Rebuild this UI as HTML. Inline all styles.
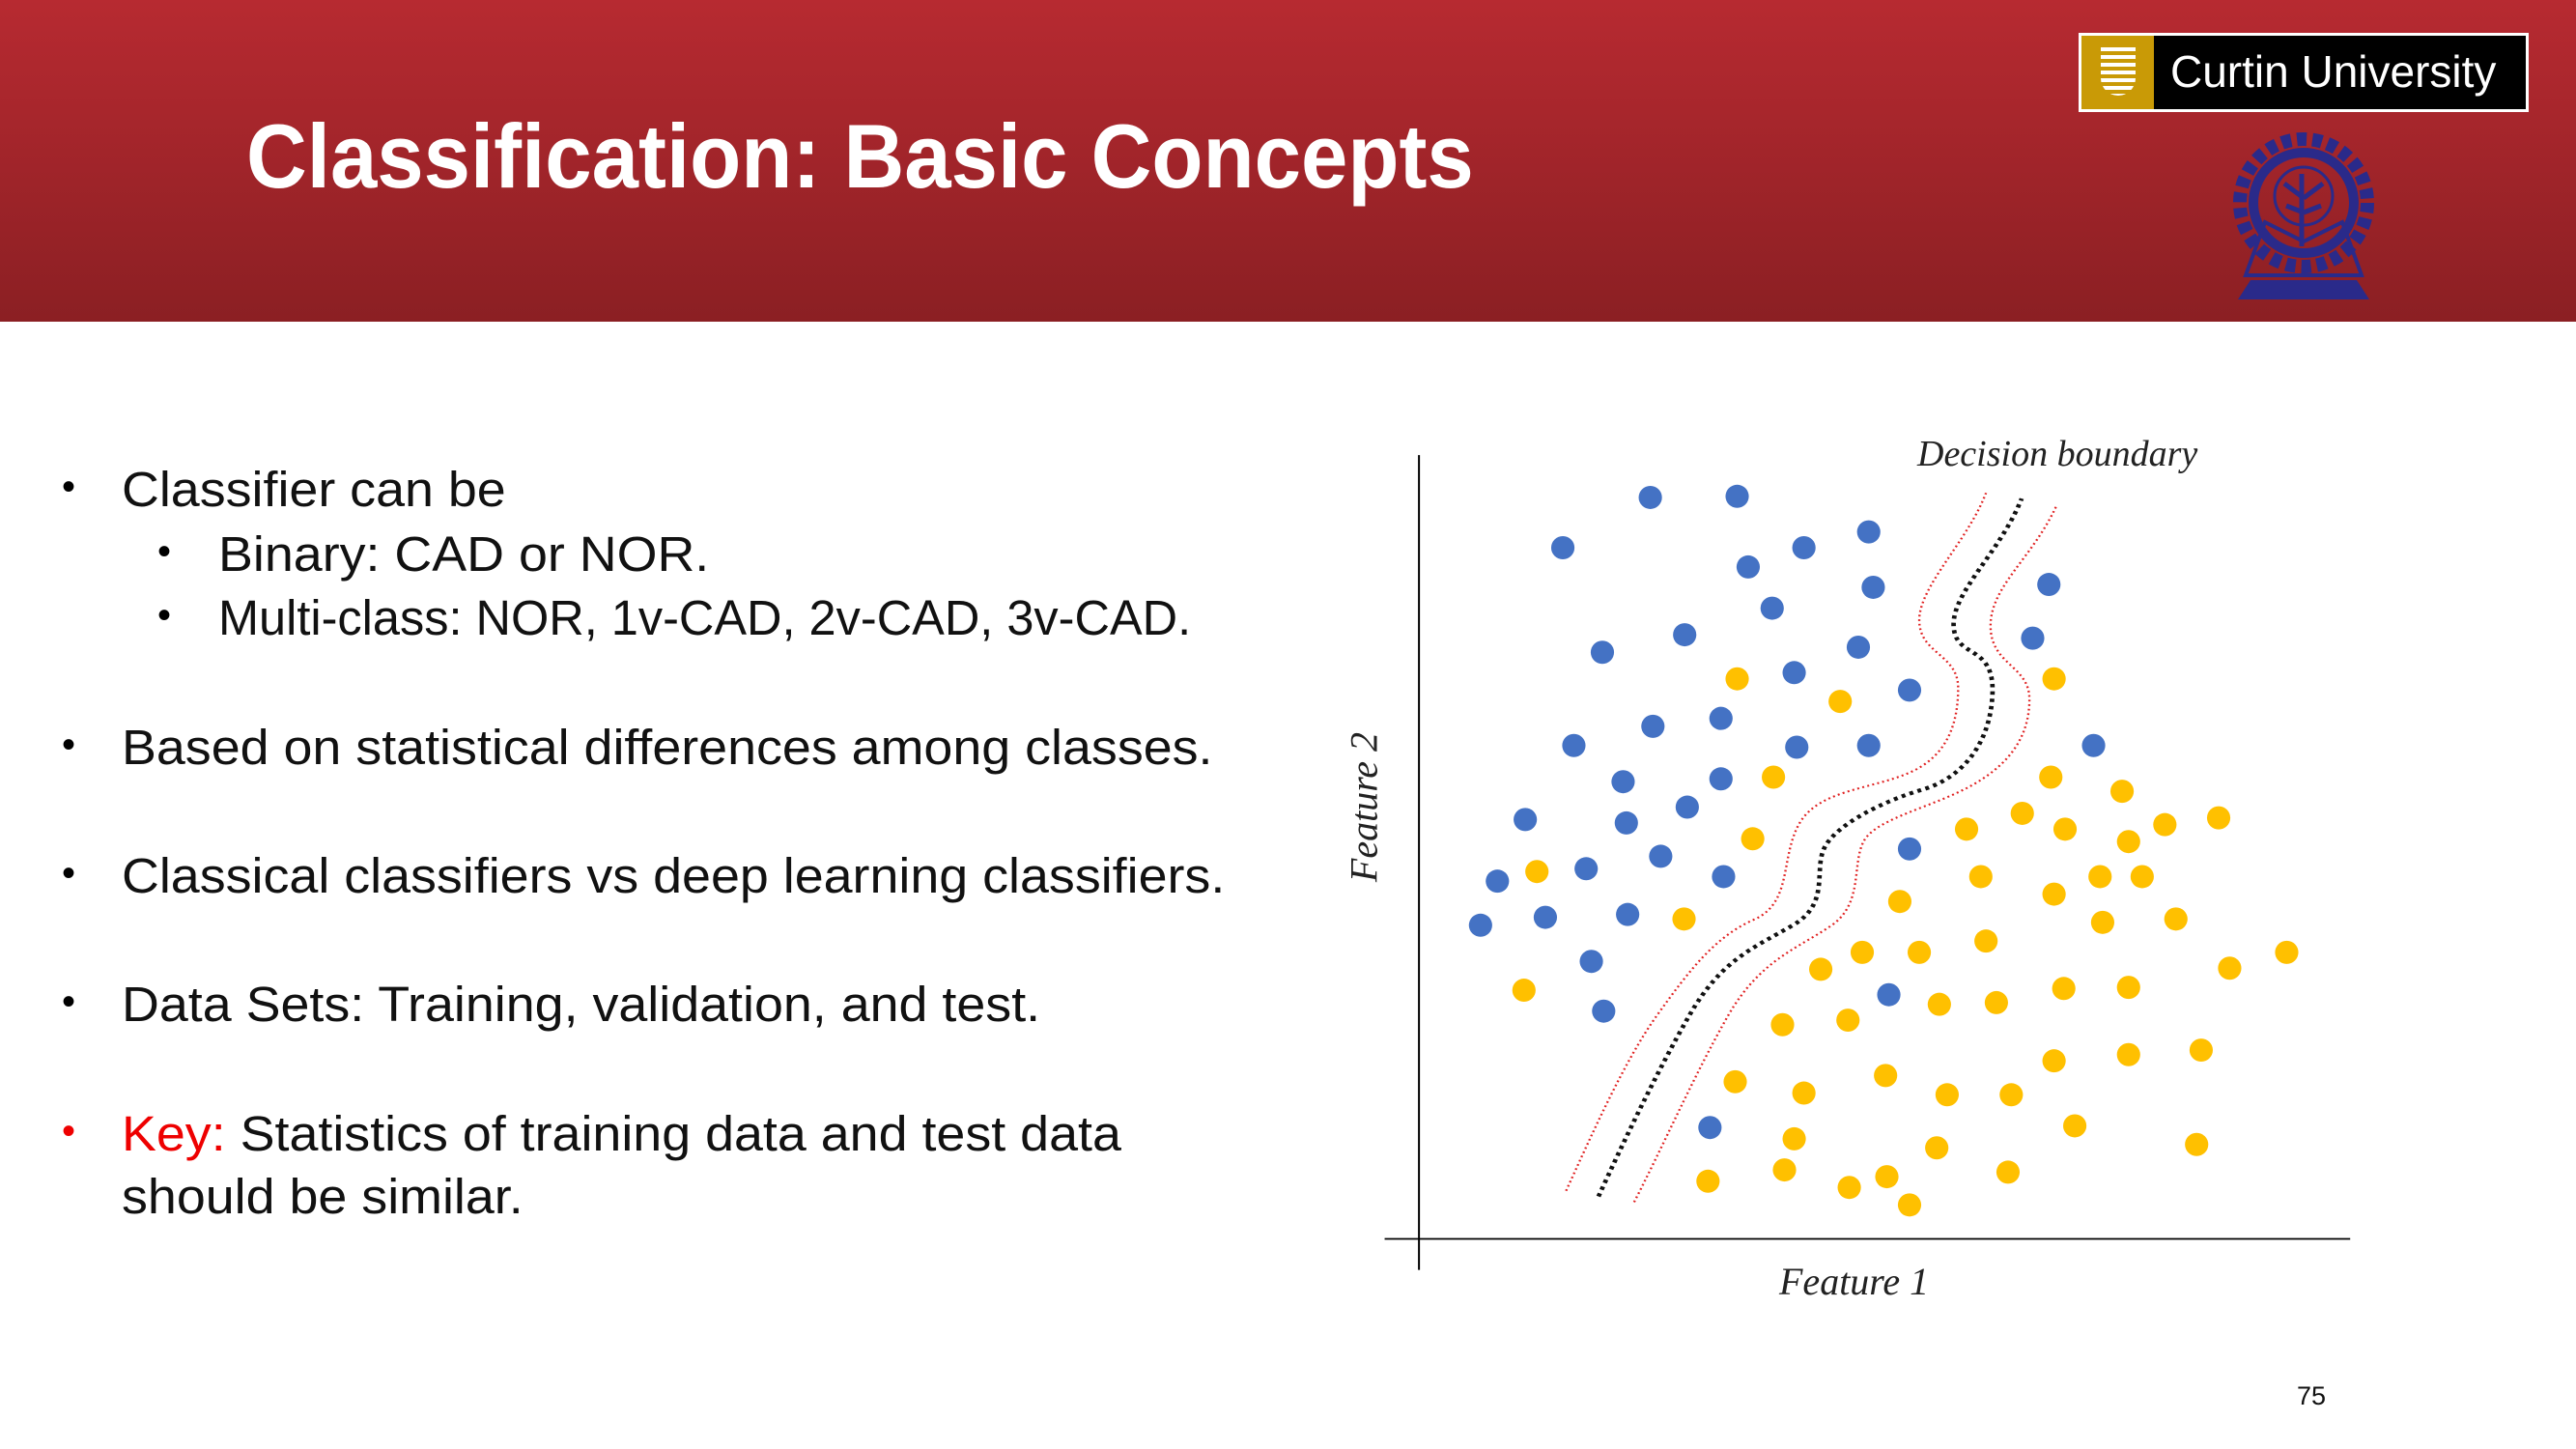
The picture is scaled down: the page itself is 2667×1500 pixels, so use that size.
<!DOCTYPE html>
<html><head><meta charset="utf-8"><style>
body{margin:0;width:2667px;height:1500px;position:relative;background:#fff;overflow:hidden;font-family:"Liberation Sans",sans-serif}
.hdr{position:absolute;left:0;top:0;width:2667px;height:333px;background:linear-gradient(#b72a31,#8b1f23)}
.title{position:absolute;left:255px;top:108px;font-size:94px;font-weight:bold;color:#fff;white-space:nowrap;transform:scaleX(0.925);transform-origin:left top}
.line{position:absolute;font-size:51px;color:#111;white-space:nowrap;line-height:1;transform:scaleX(1.055);transform-origin:left top}
.dot{position:absolute;font-size:40px}
.lbl{position:absolute;font-family:"Liberation Serif",serif;font-style:italic;white-space:nowrap;color:#222}
</style></head><body>
<div class="hdr"></div>
<div class="title">Classification: Basic Concepts</div>
<div style="position:absolute;left:2152px;top:34px;width:460px;height:76px;border:3px solid #fff;background:#000">
 <div style="position:absolute;left:0;top:0;width:75px;height:76px;background:#c99a06"></div>
 <div style="position:absolute;left:20px;top:12px;width:36px;height:50px;background:repeating-linear-gradient(#fff 0 4px,#c99a06 4px 8px);border-radius:0 0 18px 18px"></div>
 <div style="position:absolute;left:92px;top:10px;color:#fff;font-size:46px;white-space:nowrap">Curtin University</div>
</div>
<svg style="position:absolute;left:2305px;top:135px" width="160" height="180" viewBox="0 0 160 180">
 <circle cx="80" cy="75" r="66" fill="none" stroke="#2a2a8a" stroke-width="14" stroke-dasharray="10 6"/>
 <circle cx="80" cy="75" r="52" fill="none" stroke="#2a2a8a" stroke-width="10"/>
 <circle cx="80" cy="68" r="30" fill="none" stroke="#2a2a8a" stroke-width="3"/>
 <path d="M78 45 V120 M80 70 L60 55 M80 70 L100 55 M80 85 L62 78 M80 85 L98 78" stroke="#2a2a8a" stroke-width="5"/>
 <path d="M20 150 L40 95 L80 115 L120 95 L140 150 Z" fill="none" stroke="#2a2a8a" stroke-width="4"/>
 <path d="M12 175 L25 155 H135 L148 175 Z" fill="#2a2a8a"/>
</svg>

<div class="dot" style="left:64px;top:482px">•</div>
<div class="line" style="left:126px;top:481px">Classifier can be</div>
<div class="dot" style="left:163px;top:549px">•</div>
<div class="line" style="left:226px;top:548px">Binary: CAD or NOR.</div>
<div class="dot" style="left:163px;top:615px">•</div>
<div class="line" style="left:226px;top:614px;transform:scaleX(0.99)">Multi-class: NOR, 1v-CAD, 2v-CAD, 3v-CAD.</div>
<div class="dot" style="left:64px;top:749px">•</div>
<div class="line" style="left:126px;top:748px">Based on statistical differences among classes.</div>
<div class="dot" style="left:64px;top:882px">•</div>
<div class="line" style="left:126px;top:881px">Classical classifiers vs deep learning classifiers.</div>
<div class="dot" style="left:64px;top:1015px">•</div>
<div class="line" style="left:126px;top:1014px">Data Sets: Training, validation, and test.</div>
<div class="dot" style="left:64px;top:1149px;color:#e00">•</div>
<div class="line" style="left:126px;top:1148px"><span style="color:#e00">Key:</span> Statistics of training data and test data</div>
<div class="line" style="left:126px;top:1213px">should be similar.</div>
<div style="position:absolute;left:2378px;top:1430px;font-size:27px;color:#111">75</div>

<div class="lbl" style="left:1985px;top:448px;font-size:38px">Decision boundary</div>
<div class="lbl" style="left:1842px;top:1303px;font-size:40px">Feature 1</div>
<div class="lbl" style="left:1332px;top:812px;width:160px;text-align:center;font-size:40px;transform:rotate(-90deg)">Feature 2</div>

<svg id="chart" style="position:absolute;left:1400px;top:443px" width="1050" height="919" viewBox="0 0 1565 1571" preserveAspectRatio="none">
 <line x1="103" y1="48" x2="103" y2="1490" stroke="#000" stroke-width="3"/>
 <line x1="50" y1="1435" x2="1540" y2="1435" stroke="#000" stroke-width="3"/>
 <path fill="none" stroke="#e02020" stroke-width="3.5" stroke-dasharray="3 5" d="M330 1350 C370 1250 420 1120 470 1040 S560 900 620 870 S660 760 690 700 S800 640 860 610 S935 520 935 460 S875 400 875 340 S950 200 978 115"/>
 <path fill="none" stroke="#111" stroke-width="7" stroke-dasharray="6 7" d="M380 1360 C420 1260 470 1140 520 1040 S620 920 680 880 S710 780 730 740 S820 660 880 640 S985 560 988 470 S930 410 928 350 S1000 220 1033 125"/>
 <path fill="none" stroke="#e02020" stroke-width="3.5" stroke-dasharray="3 5" d="M435 1370 C480 1270 530 1140 580 1040 S690 920 740 880 S770 770 790 730 S900 670 960 630 S1045 540 1045 480 S985 420 985 350 S1050 230 1087 137"/>
 <g id="pts"></g>
</svg>
<script>
const blueX=[35.7,49.1,22.2,59.4,69.4,50.8,70.1,97.2,54.5,41,28.3,67.8,94.7,57.9,75.7,36.1,46.6,23.9,58.3,69.4,104.1,31.5,46.6,41.4,16.4,32,75.7,37.3,12.1,25.8,47,9.5,19.5,32.2,26.6,72.5,28.5,44.9];
const blueY=[131.2,131.4,122.3,122.3,125.1,118.9,115.3,115.8,111.6,106.9,103.8,104.7,106.3,100.2,97.1,90.7,92.1,87.3,87,87.3,87.3,80.9,81.4,76.4,74.2,73.6,69,67.7,63.3,65.5,64.1,55.5,56.9,57.4,49.1,43.2,40.3,19.7];
const yellowX=[49.1,65,98,54.7,97.5,108.5,51.5,84.5,93.1,99.7,109.5,115.1,123.4,18.2,86.7,98,105.1,111.6,74.2,40.9,105.5,116.8,68.4,77.2,87.5,62,133.9,125.1,16.2,80.3,89.1,99.5,109.5,56.1,66.2,98,109.5,120.7,48.8,59.4,72,81.5,91.4,101.2,57.9,79.9,120,44.6,56.4,66.4,72.2,90.9,75.7];
const yellowY=[99.1,95.1,99.1,81.7,81.7,79.2,70.8,72.5,75.3,72.5,70.3,73.3,74.5,65,64.1,61,64.1,64.1,59.7,56.6,56,56.6,50.7,50.7,52.7,47.7,50.7,47.9,44,41.5,41.8,44.3,44.5,37.9,38.7,31.5,32.6,33.4,27.8,25.8,28.9,25.5,25.5,20,17.7,16.1,16.7,10.2,12.2,9.1,11,11.8,6];
function xScale(v){return 103+v*10;}
function yScale(v){return 1435-v*10;}
const g=document.getElementById('pts');
function draw(xs,ys,color,name){
 for(let i=0;i<xs.length;i++){
  const c=document.createElementNS('http://www.w3.org/2000/svg','ellipse');
  c.setAttribute('cx',xScale(xs[i]));c.setAttribute('cy',yScale(ys[i]));
  c.setAttribute('rx',18);c.setAttribute('ry',20.5);c.setAttribute('fill',color);
  
  
  g.appendChild(c);
 }
}
draw(blueX,blueY,'#4472c4','blue-point');
draw(yellowX,yellowY,'#ffc000','yellow-point');
</script>
</body></html>
